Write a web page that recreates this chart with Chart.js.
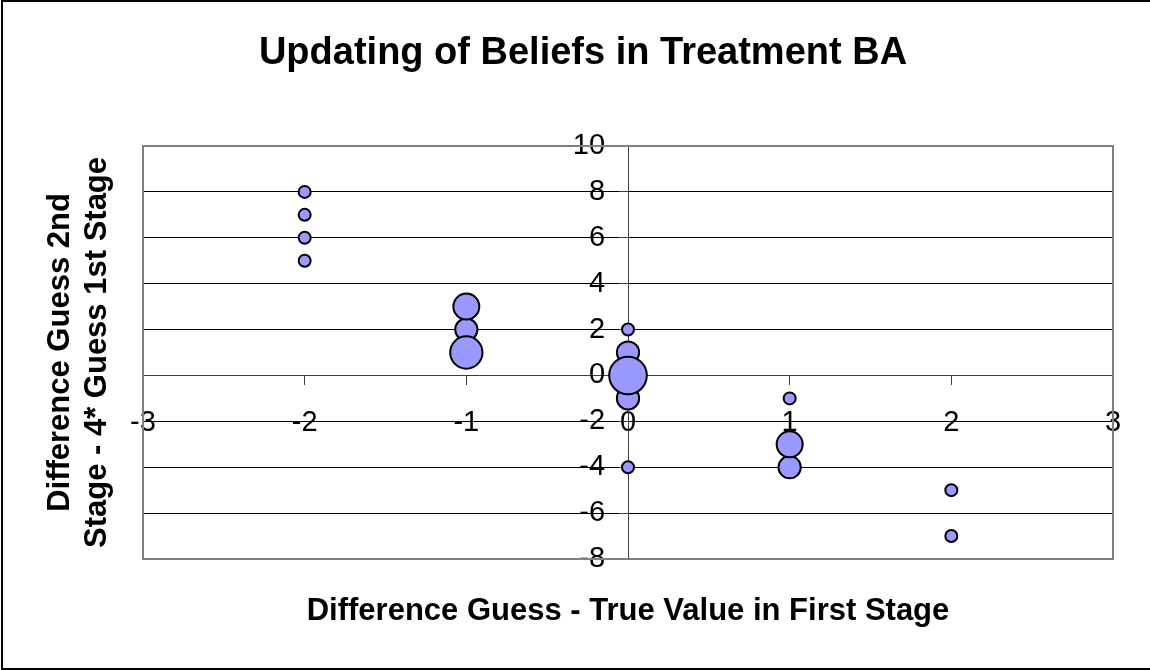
<!DOCTYPE html>
<html>
<head>
<meta charset="utf-8">
<title>Updating of Beliefs in Treatment BA</title>
<script src="https://cdn.jsdelivr.net/npm/chart.js@4/dist/chart.umd.min.js"></script>
<style>
html,body{margin:0;padding:0;background:#fff;}
canvas{display:block;}
</style>
</head>
<body>
<canvas id="chart" width="1150" height="670"></canvas>
<script>
// ---- data ----
const xValues = [-2, -2, -2, -2, 0, 0, 1, 2, 2, -1, 0, 0, 1, -1, 1, -1, 0];
const yValues = [8, 7, 6, 5, 2, -4, -1, -5, -7, 2, 1, -1, -4, 3, -3, 1, 0];
const bubbleSizes = [1, 1, 1, 1, 1, 1, 1, 1, 1, 3, 3, 3, 3, 4, 4, 6, 8];
const xTicks = [-3, -2, -1, 0, 1, 2, 3];
const yTicks = [-8, -6, -4, -2, 0, 2, 4, 6, 8, 10];
const chartTitle = 'Updating of Beliefs in Treatment BA';
const xTitle = 'Difference Guess - True Value in First Stage';
const yTitle = ['Difference Guess 2nd', 'Stage - 4* Guess 1st Stage'];

const FONT = "'Liberation Sans', Arial, Helvetica, sans-serif";
const BUBBLE_UNIT = 7; // visual radius (px) of a size-1 bubble; area grows with size

const points = xValues.map((x, i) => ({
  x: x,
  y: yValues[i],
  r: BUBBLE_UNIT * Math.sqrt(bubbleSizes[i]) - 1
}));

const useTicks = list => scale => { scale.ticks = list.map(v => ({ value: v })); };

const frame = {
  id: 'frame',
  beforeDraw(chart) {
    const { ctx } = chart;
    ctx.save();
    ctx.fillStyle = '#fff';
    ctx.fillRect(0, 0, chart.width, chart.height);
    ctx.restore();
  },
  beforeDatasetsDraw(chart) {
    const { ctx, chartArea: a } = chart;
    ctx.save();
    ctx.strokeStyle = '#808080';
    ctx.lineWidth = 2;
    ctx.strokeRect(a.left, a.top, a.right - a.left, a.bottom - a.top);
    ctx.restore();
  },
  afterDraw(chart) {
    const { ctx } = chart;
    ctx.save();
    ctx.strokeStyle = '#000';
    ctx.lineWidth = 2;
    ctx.strokeRect(2, 1, chart.width + 10, chart.height - 2);
    ctx.restore();
  }
};

new Chart(document.getElementById('chart'), {
  type: 'bubble',
  data: {
    datasets: [{
      label: 'Beliefs',
      data: points,
      xAxisID: 'x',
      yAxisID: 'y',
      backgroundColor: '#9999FF',
      borderColor: '#000000',
      borderWidth: 2,
      clip: false
    }]
  },
  options: {
    responsive: false,
    animation: false,
    devicePixelRatio: 1,
    events: [],
    layout: { padding: { left: 16, right: 0, top: 0, bottom: 0 } },
    plugins: {
      legend: { display: false },
      tooltip: { enabled: false },
      title: {
        display: true,
        text: chartTitle,
        color: '#000',
        font: { family: FONT, size: 38, weight: 'bold', lineHeight: 1.2 },
        padding: { top: 31, bottom: 69.4 }
      }
    },
    scales: {
      x: {
        type: 'linear', axis: 'x', min: -3, max: 3,
        position: { y: 0 },
        afterBuildTicks: useTicks(xTicks),
        grid: { drawOnChartArea: false, drawTicks: true, tickLength: 9, tickColor: '#404040', tickWidth: 1, lineWidth: 1 },
        border: { display: true, color: '#404040', width: 1 },
        ticks: { color: '#000', font: { family: FONT, size: 29 }, padding: 21, autoSkip: false, maxRotation: 0, minRotation: 0 }
      },
      y: {
        type: 'linear', axis: 'y', min: -8, max: 10,
        position: { x: 0 },
        afterBuildTicks: useTicks(yTicks),
        grid: { color: '#000', lineWidth: 1, drawTicks: true, tickLength: 9, tickColor: '#404040', tickWidth: 1 },
        border: { display: true, color: '#404040', width: 1 },
        ticks: { display: false }
      },
      yLab: {
        type: 'linear', axis: 'y', min: -8, max: 10,
        position: { x: -0.142 },
        afterBuildTicks: useTicks(yTicks),
        grid: { display: false, drawTicks: false },
        border: { display: false },
        ticks: { color: '#000', font: { family: FONT, size: 29 }, padding: 0, autoSkip: false }
      },
      yT: {
        type: 'linear', axis: 'y', position: 'left', display: true,
        afterFit: s => { s.width = 127; },
        grid: { display: false, drawTicks: false },
        border: { display: false },
        ticks: { display: false },
        title: {
          display: true, text: yTitle, color: '#000',
          font: { family: FONT, size: 31, weight: 'bold', lineHeight: '37px' },
          padding: { top: 26, bottom: 0 }
        }
      },
      xT: {
        type: 'linear', axis: 'x', position: 'bottom', display: true,
        afterFit: s => { s.height = 111; },
        grid: { display: false, drawTicks: false },
        border: { display: false },
        ticks: { display: false },
        title: {
          display: true, text: xTitle, color: '#000',
          font: { family: FONT, size: 31, weight: 'bold', lineHeight: 1.2 },
          padding: { top: 0, bottom: 39.5 }
        }
      },
      yR: {
        type: 'linear', axis: 'y', position: 'right', display: true,
        afterFit: s => { s.width = 37; },
        grid: { display: false, drawTicks: false },
        border: { display: false },
        ticks: { display: false }
      }
    }
  },
  plugins: [frame]
});
</script>
</body>
</html>
